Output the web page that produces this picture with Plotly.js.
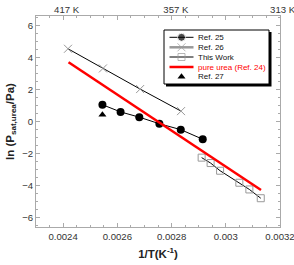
<!DOCTYPE html>
<html><head><meta charset="utf-8">
<script src="https://cdn.plot.ly/plotly-3.0.1.min.js"></script>
<style>html,body{margin:0;padding:0;background:#fff}#c{width:294px;height:265px}</style>
</head><body><div id="c"></div>
<script>
const topTemps = [417, 357, 313];
const topLabels = ['417 K', '357 K', '313 K'];
const xTicks = [0.0024, 0.0026, 0.0028, 0.003, 0.0032];
const xTickLabels = ['0.0024', '0.0026', '0.0028', '0.003', '0.0032'];
const ref25x = [0.002545, 0.002612, 0.002681, 0.002755, 0.002834, 0.002915];
const ref25y = [1.05, 0.6, 0.27, -0.14, -0.51, -1.11];
const ref26x = [0.002418, 0.002547, 0.002684, 0.002835];
const ref26y = [4.55, 3.32, 2.03, 0.65];
const workx = [0.002911, 0.002944, 0.002979, 0.00305, 0.003087, 0.003129];
const worky = [-2.26, -2.6, -3.08, -3.83, -4.25, -4.8];
const ureax = [0.00242, 0.00313];
const ureay = [3.71, -4.29];
const ref27x = [0.002545];
const ref27y = [0.43];
const legendNames = ['Ref. 25', 'Ref. 26', 'This Work', 'pure urea (Ref. 24)', 'Ref. 27'];
const legendColors = ['#111', '#111', '#111', '#ff0000', '#111'];

// plot area in pixels
const W = 294, H = 265, L = 36, R = 280, T = 16, B = 227;
const px = v => (v - L) / (R - L);
const py = v => (B - v) / (B - T);

const styles = [
  {mode: 'lines+markers', line: {color: '#000', width: 1}, marker: {symbol: 'circle', size: 8, color: '#000'}},
  {mode: 'lines+markers', line: {color: '#000', width: 1}, marker: {symbol: 'x-thin-open', size: 8, color: '#999', line: {color: '#999', width: 1}}},
  {mode: 'lines+markers', line: {color: '#000', width: 1}, marker: {symbol: 'square-open', size: 7, color: '#999', line: {color: '#999', width: 1}}},
  {mode: 'lines', line: {color: '#ff0000', width: 2.5}},
  {mode: 'markers', marker: {symbol: 'triangle-up', size: 7, color: '#000'}}
];
const legendStyles = [
  styles[0],
  {mode: 'lines+markers', line: {color: '#999', width: 2.5}, marker: {symbol: 'x-thin-open', size: 8, color: '#999', line: {color: '#999', width: 1}}},
  styles[2], styles[3], styles[4]
];
const dataX = [ref25x, ref26x, workx, ureax, ref27x];
const dataY = [ref25y, ref26y, worky, ureay, ref27y];

const traces = [];
dataX.forEach((xs, i) => {
  traces.push(Object.assign({x: xs, y: dataY[i], name: legendNames[i], showlegend: false, hoverinfo: 'skip'}, styles[i]));
});

// manual legend (samples drawn on a hidden 0..1 overlay axis pair)
const rowY = [37.3, 47.3, 57, 67, 76.7];
const sampleX0 = 169.5, sampleX1 = 193.5, sampleXm = 181.5, textX = 195.5;
const annotations = [];
legendNames.forEach((n, i) => {
  const s = legendStyles[i];
  const xs = s.mode.includes('lines') ? [px(sampleX0), px(sampleXm), px(sampleX1)] : [px(sampleXm)];
  const ys = xs.map(() => py(rowY[i]));
  const tr = Object.assign({}, s, {x: xs, y: ys, xaxis: 'x3', yaxis: 'y3', showlegend: false, hoverinfo: 'skip', cliponaxis: false});
  if (s.marker && s.mode.includes('lines')) {
    tr.marker = Object.assign({}, s.marker);
    tr.marker.size = [0, s.marker.size, 0];
  }
  traces.push(tr);
  annotations.push({xref: 'paper', yref: 'paper', x: px(textX), y: py(rowY[i]), xanchor: 'left', yanchor: 'middle',
    text: n, showarrow: false, font: {size: 8, color: legendColors[i]}});
});
// dummy trace to activate xaxis2
traces.push({x: [0.0023], y: [0], xaxis: 'x2', mode: 'markers', marker: {opacity: 0}, showlegend: false, hoverinfo: 'skip'});

const axcol = '#aaaaaa';
const layout = {
  width: W, height: H,
  margin: {l: L, r: W - R, t: T, b: H - B},
  paper_bgcolor: '#fff', plot_bgcolor: '#fff',
  font: {family: 'Liberation Sans, Arial, sans-serif', size: 9.6, color: '#333'},
  showlegend: false,
  xaxis: {range: [0.0023, 0.0032], tickmode: 'array', tickvals: xTicks, ticktext: xTickLabels,
    ticklabeloverflow: 'allow',
    showgrid: false, zeroline: false, showline: true, linecolor: axcol, linewidth: 1,
    ticks: 'inside', ticklen: 4, tickcolor: axcol, mirror: 'ticks',
    minor: {tickmode: 'linear', tick0: 0.0024, dtick: 0.00005, ticks: 'inside', ticklen: 2, tickcolor: axcol, showgrid: false},
    title: {text: '<b>1/T(K<sup>-1</sup>)</b>', font: {size: 11.5, color: '#222'}, standoff: 9}},
  xaxis2: {range: [0.0023, 0.0032], overlaying: 'x', side: 'top', showgrid: false, zeroline: false,
    showline: false, ticks: '', tickvals: topTemps.map(t => 1 / t), ticktext: topLabels, ticklabelshift: 4,
    ticklabeloverflow: 'allow', tickfont: {size: 9.6, color: '#333'}},
  xaxis3: {range: [0, 1], overlaying: 'x', anchor: 'y3', visible: false, fixedrange: true},
  yaxis3: {range: [0, 1], overlaying: 'y', anchor: 'x3', visible: false, fixedrange: true},
  yaxis: {range: [-6.6, 6.6], dtick: 2, tick0: 0,
    showgrid: false, zeroline: false, showline: true, linecolor: axcol, linewidth: 1,
    ticks: 'inside', ticklen: 4, tickcolor: axcol, mirror: 'ticks',
    minor: {dtick: 0.5, ticks: 'inside', ticklen: 2, tickcolor: axcol, showgrid: false},
    title: {text: '<b>ln (P<sub>sat,urea</sub>/Pa)</b>', font: {size: 11.5, color: '#222'}, standoff: 5}},
  shapes: [
    {type: 'rect', xref: 'paper', yref: 'paper', x0: px(166), x1: px(271.5), y0: py(86.5), y1: py(32),
     fillcolor: '#000', line: {width: 0}, layer: 'below'},
    {type: 'rect', xref: 'paper', yref: 'paper', x0: px(164), x1: px(269), y0: py(84), y1: py(30),
     fillcolor: '#fff', line: {width: 1, color: '#000'}, layer: 'below'}
  ],
  annotations: annotations
};
Plotly.newPlot('c', traces, layout, {staticPlot: true});
</script></body></html>
